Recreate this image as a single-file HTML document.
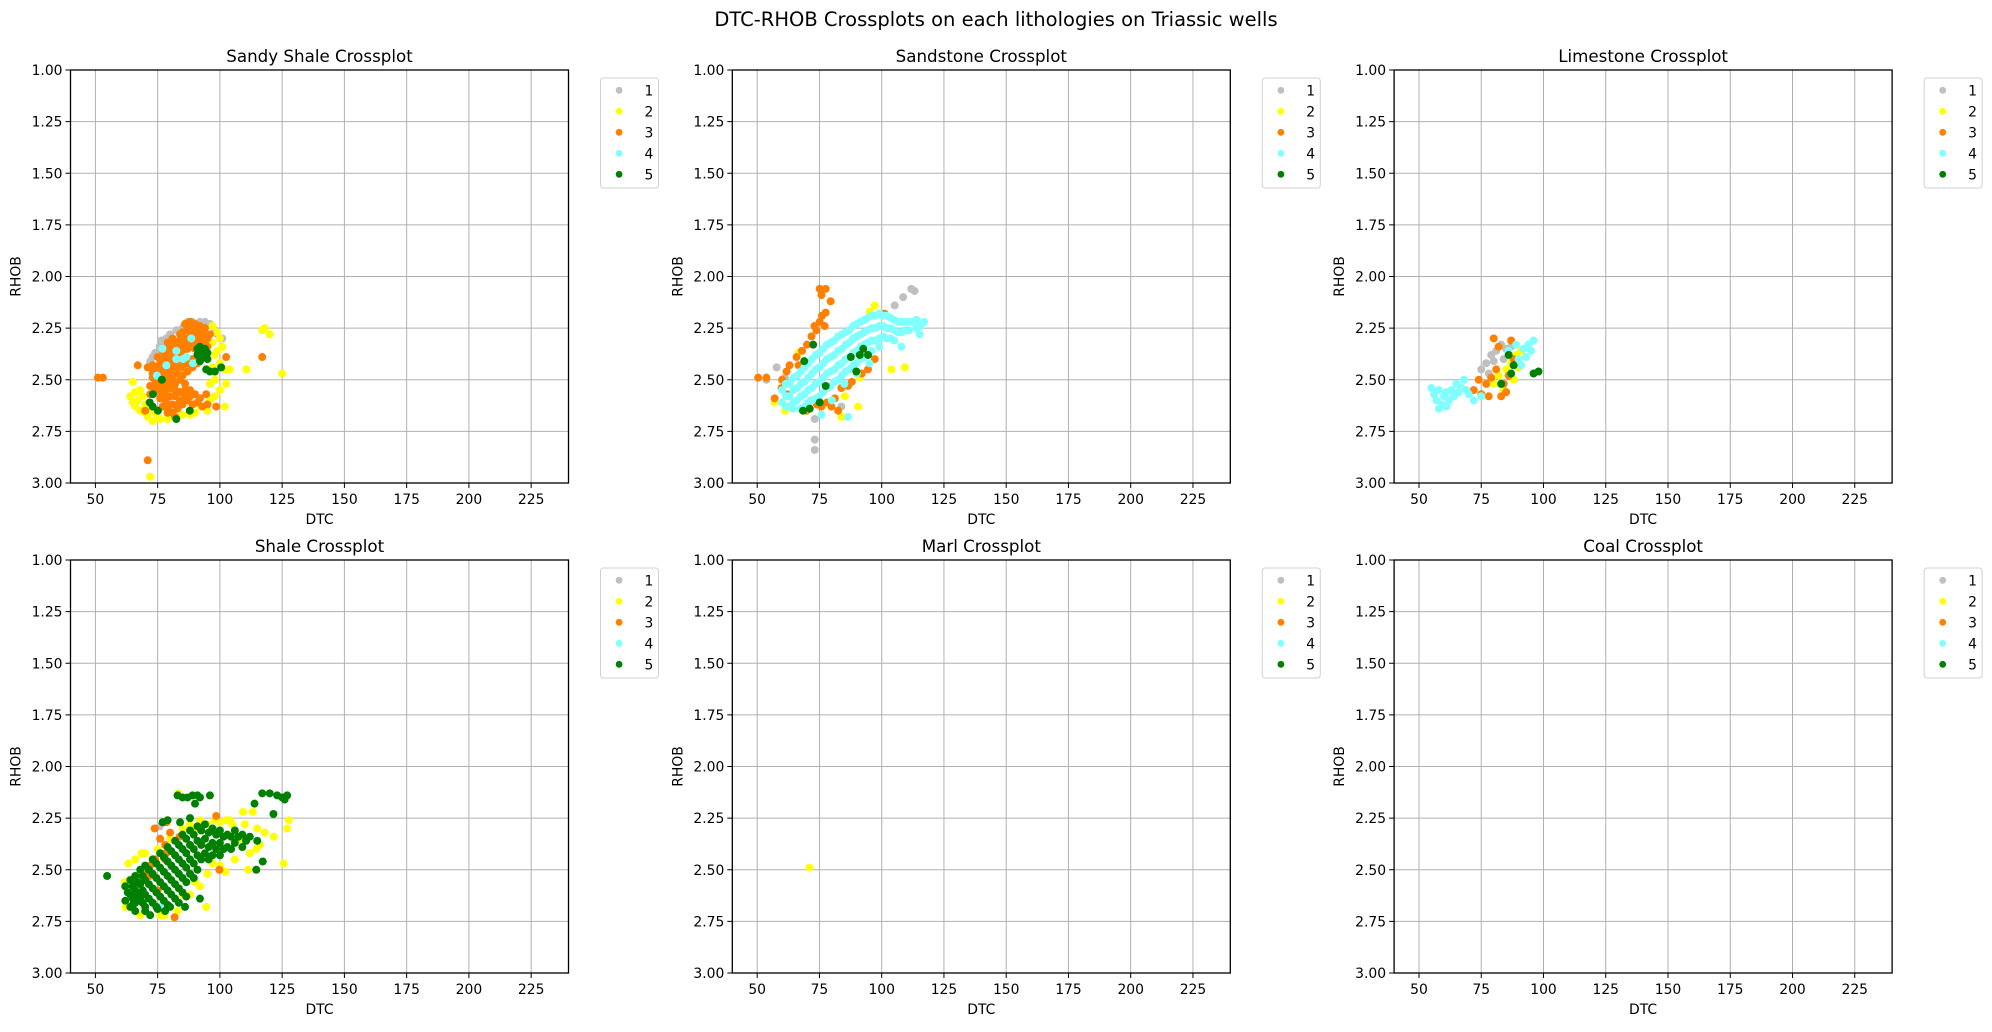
<!DOCTYPE html>
<html><head><meta charset="utf-8"><style>
html,body{margin:0;padding:0;background:#fff;}
svg text{font-family:"DejaVu Sans","Liberation Sans",sans-serif;fill:#000;}
</style></head><body>
<svg id="fig" width="1992" height="1027" viewBox="0 0 1992 1027" xmlns="http://www.w3.org/2000/svg">
<text x="996" y="26" font-size="19.5" text-anchor="middle">DTC-RHOB Crossplots on each lithologies on Triassic wells</text>
</svg>
<script>
const xTicks = [50,75,100,125,150,175,200,225];
const yTicks = [1.00,1.25,1.50,1.75,2.00,2.25,2.50,2.75,3.00];
const classLabels = ["1","2","3","4","5"];
const classColors = ["#bfbfbf","#ffff00","#ff8000","#80ffff","#008000"];
const panelTitles = ["Sandy Shale Crossplot","Sandstone Crossplot","Limestone Crossplot","Shale Crossplot","Marl Crossplot","Coal Crossplot"];

const sandyShale1 = [[89,2.22],[92,2.22],[96,2.23],[101,2.30],[78.5,2.30],[82.5,2.26],[85,2.25],[71.8,2.43],[75.8,2.34],[76.5,2.31],[80,2.28],[98,2.26],[73,2.39],[87,2.22],[94,2.22],[99,2.28],[77,2.33],[74,2.37],[72,2.41]];
const sandyShale2 = [[64,2.58],[66,2.56],[68,2.55],[65,2.61],[67,2.60],[69,2.58],[70,2.62],[72,2.64],[74,2.66],[68,2.65],[71,2.68],[73,2.70],[76,2.69],[79,2.69],[85,2.67],[88,2.67],[92,2.63],[95,2.65],[97,2.24],[99,2.27],[100,2.30],[101,2.34],[98,2.38],[100,2.42],[102,2.45],[104,2.45],[98,2.50],[100,2.55],[102,2.63],[117,2.26],[118,2.25],[120,2.28],[110.6,2.45],[125,2.47],[72,2.97],[65,2.51],[102.5,2.52],[96,2.60],[66,2.63],[70,2.66],[75,2.68],[82,2.68],[90,2.66],[97,2.32],[99,2.36],[97,2.44],[96,2.52],[98,2.58]];
const sandyShale3 = [[86,2.23],[88,2.22],[90,2.23],[92,2.24],[94,2.25],[87,2.26],[89,2.27],[91,2.28],[93,2.29],[95,2.30],[84,2.28],[86,2.30],[88,2.31],[90,2.32],[83,2.32],[85,2.34],[87,2.35],[80,2.34],[82,2.36],[84,2.38],[78,2.38],[80,2.40],[82,2.42],[76,2.42],[78,2.44],[80,2.46],[74,2.45],[76,2.47],[78,2.49],[73,2.49],[75,2.51],[77,2.53],[72,2.53],[74,2.55],[79,2.52],[81,2.50],[83,2.47],[85,2.44],[87,2.42],[89,2.40],[91,2.38],[93,2.36],[94,2.33],[96,2.28],[82,2.55],[80,2.58],[78,2.60],[81,2.62],[83,2.64],[79,2.66],[82,2.68],[84,2.60],[86,2.58],[88,2.55],[90,2.57],[92,2.59],[89,2.62],[93,2.63],[95,2.62],[72,2.57],[71,2.44],[84,2.50],[86,2.52],[76,2.56],[77,2.63],[51,2.49],[53,2.49],[67,2.43],[117,2.39],[71,2.89],[102.5,2.39],[94.5,2.57],[98.5,2.63],[70,2.65]];
const sandyShale3b = [[87,2.24],[89,2.25],[91,2.26],[93,2.27],[85,2.27],[88,2.29],[90,2.30],[92,2.31],[94,2.32],[84,2.31],[86,2.33],[88,2.34],[90,2.35],[81,2.33],[83,2.35],[85,2.37],[79,2.36],[81,2.38],[83,2.40],[85,2.41],[77,2.40],[79,2.42],[81,2.44],[83,2.44],[75,2.44],[77,2.46],[79,2.48],[81,2.48],[73,2.47],[75,2.49],[77,2.51],[79,2.50],[74,2.52],[76,2.54],[78,2.55],[80,2.54],[80,2.62],[79,2.64],[81,2.66],[83,2.62],[85,2.62],[87,2.60],[91,2.61],[76,2.59],[78,2.57],[82,2.58],[84,2.56],[86,2.55],[88,2.58],[82,2.52],[85,2.48],[87,2.46],[89,2.44],[91,2.42],[92,2.39],[94,2.37],[95,2.34],[73,2.43],[75,2.39],[77,2.36],[79,2.32],[81,2.30]];
const sandyShale4 = [[88.5,2.30],[82.5,2.36],[86.5,2.39],[78.5,2.43],[74.7,2.48],[76.9,2.35],[85.2,2.40],[89.2,2.42],[82.5,2.40]];
const sandyShale5 = [[91,2.35],[92,2.34],[93,2.36],[94,2.35],[95,2.37],[91,2.38],[93,2.39],[95,2.40],[92,2.41],[94.5,2.45],[96,2.46],[98,2.46],[100.5,2.44],[76.7,2.50],[73.1,2.57],[71.8,2.61],[73,2.63],[75.1,2.65],[82.5,2.69],[87.9,2.65]];

const sandstone1 = [[111.9,2.06],[113.2,2.07],[108.6,2.10],[105.2,2.14],[57.8,2.44],[61.1,2.49],[53.7,2.50],[73.1,2.69],[73.1,2.79],[73.1,2.84],[83.8,2.63]];
const sandstone2 = [[97.2,2.14],[95.2,2.17],[103.9,2.45],[109.3,2.44],[90.5,2.63],[85.2,2.58],[57,2.61],[61.1,2.65],[83.8,2.68],[91.2,2.49],[66.6,2.37]];
const sandstone3 = [[75.1,2.06],[77.5,2.06],[79.5,2.12],[75.8,2.09],[77.5,2.175],[75.1,2.22],[71.8,2.29],[65.8,2.39],[61.8,2.46],[50.4,2.49],[53.7,2.49],[57,2.59],[59.8,2.54],[71.8,2.60],[75.8,2.63],[79.8,2.63],[82.5,2.65],[81.2,2.59],[83.8,2.54],[86.5,2.53],[94.5,2.45],[97.2,2.40],[101.2,2.18],[77.1,2.24],[73.8,2.26],[66.6,2.43],[69.8,2.65],[76,2.19],[73,2.24],[70,2.33],[68,2.36],[63,2.43],[60,2.50],[62,2.57],[74,2.62],[78,2.61],[88,2.51],[92,2.47]];
const sandstone4 = [[60,2.55],[60,2.61],[63,2.52],[63,2.58],[63,2.63],[66,2.48],[66,2.54],[66,2.60],[69,2.44],[69,2.51],[69,2.57],[69,2.63],[72,2.40],[72,2.47],[72,2.54],[72,2.60],[75,2.37],[75,2.44],[75,2.51],[75,2.58],[78,2.33],[78,2.40],[78,2.47],[78,2.54],[81,2.31],[81,2.38],[81,2.45],[81,2.51],[84,2.28],[84,2.35],[84,2.42],[84,2.48],[87,2.26],[87,2.32],[87,2.39],[87,2.45],[90,2.23],[90,2.29],[90,2.36],[90,2.42],[93,2.21],[93,2.27],[93,2.33],[93,2.39],[96,2.19],[96,2.25],[96,2.31],[96,2.36],[99,2.18],[99,2.24],[99,2.30],[99,2.34],[102,2.19],[102,2.25],[102,2.30],[105,2.21],[105,2.26],[105,2.31],[108,2.22],[108,2.27],[111,2.22],[111,2.26],[114,2.21],[114,2.25],[117,2.22],[113.9,2.21],[115.2,2.28],[107.9,2.34],[86.5,2.68],[75.8,2.67],[64.4,2.64],[80,2.60],[70,2.64],[85,2.52],[90,2.47],[95,2.42]];
const sandstone4b = [[61.5,2.52],[61.5,2.58],[61.5,2.63],[64.5,2.49],[64.5,2.55],[64.5,2.61],[67.5,2.46],[67.5,2.52],[67.5,2.58],[67.5,2.64],[70.5,2.42],[70.5,2.49],[70.5,2.55],[70.5,2.61],[73.5,2.38],[73.5,2.45],[73.5,2.52],[73.5,2.59],[76.5,2.35],[76.5,2.42],[76.5,2.49],[76.5,2.56],[79.5,2.32],[79.5,2.39],[79.5,2.46],[79.5,2.53],[82.5,2.29],[82.5,2.36],[82.5,2.43],[82.5,2.50],[85.5,2.27],[85.5,2.33],[85.5,2.40],[85.5,2.46],[88.5,2.24],[88.5,2.30],[88.5,2.37],[88.5,2.43],[91.5,2.22],[91.5,2.28],[91.5,2.34],[91.5,2.40],[94.5,2.20],[94.5,2.26],[94.5,2.32],[94.5,2.38],[97.5,2.19],[97.5,2.25],[97.5,2.31],[100.5,2.19],[100.5,2.24],[100.5,2.29],[103.5,2.20],[103.5,2.25],[103.5,2.30],[106.5,2.22],[106.5,2.27],[109.5,2.22],[109.5,2.26],[112.5,2.22],[115.5,2.24]];
const sandstone5 = [[72.5,2.33],[68.9,2.41],[87.6,2.39],[92.6,2.35],[91.2,2.38],[94.5,2.38],[89.8,2.46],[77.5,2.53],[75.1,2.61],[68.4,2.65],[71.1,2.64]];

const limestone1 = [[75,2.45],[77,2.42],[79,2.38],[81,2.36],[83,2.33],[85,2.35],[87,2.34],[80,2.41],[78,2.47],[84,2.40]];
const limestone2 = [[80,2.52],[82,2.48],[85,2.45],[87,2.42],[89,2.38],[88,2.50],[84,2.55],[90,2.44],[91,2.36]];
const limestone3 = [[72,2.55],[74,2.50],[75,2.57],[77,2.52],[79,2.49],[81,2.45],[82,2.34],[80,2.30],[84,2.52],[85,2.56],[83,2.58],[87,2.31],[86,2.48],[78,2.58],[88,2.40]];
const limestone4 = [[55,2.54],[56,2.57],[57,2.60],[58,2.55],[59,2.62],[60,2.58],[61,2.56],[62,2.60],[63,2.55],[64,2.58],[65,2.52],[66,2.56],[67,2.54],[68,2.50],[69,2.55],[70,2.57],[58,2.64],[61,2.63],[72,2.60],[75,2.58],[90,2.40],[92,2.35],[95,2.36],[96,2.31],[94,2.33],[91,2.43],[86,2.36],[89,2.33],[93,2.39]];
const limestone5 = [[83,2.52],[87,2.47],[88,2.43],[96,2.47],[98,2.46],[86,2.38]];

const shale1 = [[75.8,2.29]];
const shale2 = [[113.2,2.22],[109.3,2.22],[102.5,2.26],[127.7,2.26],[127,2.30],[121.6,2.34],[125.6,2.47],[111.3,2.50],[102.2,2.51],[68.5,2.42],[63.2,2.47],[61.8,2.56],[77.8,2.72],[94.5,2.68],[90.5,2.30],[83.3,2.13],[114.6,2.40],[90,2.30],[95,2.28],[100,2.27],[105,2.28],[108,2.35],[97,2.47],[85,2.62],[92,2.58]];
const shale2b = [[66,2.45],[70,2.42],[75,2.40],[80,2.35],[85,2.30],[88,2.28],[92,2.26],[98,2.26],[104,2.26],[110,2.28],[115,2.30],[118,2.32],[116,2.38],[112,2.42],[106,2.45],[100,2.48],[95,2.52],[90,2.56],[88,2.62],[83,2.70],[76,2.72],[68,2.72],[62,2.68]];
const shale3 = [[98.5,2.24],[73.8,2.30],[78.5,2.27],[78.5,2.42],[83.8,2.34],[81.8,2.73],[99.8,2.50],[71.8,2.53],[76,2.35],[78,2.38],[80,2.32],[74,2.45],[72,2.48],[78,2.45],[70,2.52],[75,2.60]];
const shale4 = [[75.8,2.68]];
const shale5 = [[62,2.58],[62,2.65],[64,2.55],[64,2.62],[64,2.68],[66,2.53],[66,2.60],[66,2.66],[68,2.50],[68,2.57],[68,2.64],[70,2.48],[70,2.55],[70,2.62],[70,2.68],[73,2.45],[73,2.52],[73,2.59],[73,2.66],[76,2.42],[76,2.49],[76,2.56],[76,2.63],[79,2.39],[79,2.46],[79,2.53],[79,2.60],[79,2.67],[82,2.36],[82,2.43],[82,2.50],[82,2.57],[82,2.64],[85,2.33],[85,2.40],[85,2.47],[85,2.54],[85,2.61],[88,2.31],[88,2.38],[88,2.45],[88,2.52],[91,2.29],[91,2.36],[91,2.43],[91,2.50],[94,2.28],[94,2.35],[94,2.42],[97,2.30],[97,2.37],[97,2.43],[100,2.31],[100,2.37],[100,2.43],[103,2.33],[103,2.39],[106,2.31],[106,2.37],[109,2.33],[109,2.39],[112,2.34],[115,2.36],[77,2.27],[79,2.26],[84,2.27],[88,2.25],[65,2.67],[70,2.70],[75,2.69],[80,2.68],[83,2.14],[85,2.15],[87,2.15],[89,2.14],[91,2.14],[92,2.15],[96,2.14],[90,2.18],[117,2.13],[120,2.13],[123,2.14],[125,2.15],[127,2.14],[126,2.16],[121.5,2.23],[113.9,2.18],[54.7,2.53],[117.2,2.46],[114.6,2.50]];
const shale5b = [[63,2.61],[65,2.58],[65,2.64],[67,2.56],[67,2.62],[69,2.53],[69,2.60],[69,2.66],[71.5,2.50],[71.5,2.57],[71.5,2.64],[74.5,2.47],[74.5,2.54],[74.5,2.61],[74.5,2.68],[77.5,2.44],[77.5,2.51],[77.5,2.58],[77.5,2.65],[80.5,2.41],[80.5,2.48],[80.5,2.55],[80.5,2.62],[83.5,2.38],[83.5,2.45],[83.5,2.52],[83.5,2.59],[83.5,2.66],[86.5,2.35],[86.5,2.42],[86.5,2.49],[86.5,2.56],[86.5,2.63],[89.5,2.33],[89.5,2.40],[89.5,2.47],[89.5,2.54],[92.5,2.31],[92.5,2.38],[92.5,2.45],[95.5,2.32],[95.5,2.39],[95.5,2.45],[98.5,2.33],[98.5,2.40],[101.5,2.34],[101.5,2.40],[104.5,2.34],[104.5,2.40],[107.5,2.34],[110.5,2.36],[66,2.70],[72,2.72],[78,2.70],[86,2.68],[92,2.64]];

const marl1 = [];
const marl2 = [[71,2.49]];
const marl3 = [];
const marl4 = [];
const marl5 = [];

const coal1 = [];
const coal2 = [];
const coal3 = [];
const coal4 = [];
const coal5 = [];

const panelSeries = [
  [sandyShale1,sandyShale2,sandyShale3.concat(sandyShale3b),sandyShale4,sandyShale5],
  [sandstone1,sandstone2,sandstone3,sandstone4.concat(sandstone4b),sandstone5],
  [limestone1,limestone2,limestone3,limestone4,limestone5],
  [shale1,shale2.concat(shale2b),shale3,shale4,shale5.concat(shale5b)],
  [marl1,marl2,marl3,marl4,marl5],
  [coal1,coal2,coal3,coal4,coal5]
];
const panelNames = ["sandy-shale","sandstone","limestone","shale","marl","coal"];

const NS = "http://www.w3.org/2000/svg";
const fig = document.getElementById("fig");
const X0 = 40, X1 = 240, Y0 = 1.0, Y1 = 3.0;
const W = 498, H = 413;

function mk(tag, attrs, parent){
  const e = document.createElementNS(NS, tag);
  for (const k in attrs) e.setAttribute(k, attrs[k]);
  parent.appendChild(e);
  return e;
}

panelSeries.forEach((series, p) => {
  const col = p % 3, row = Math.floor(p / 3);
  const left = 70.5 + col * 661.8;
  const top = 70 + row * 490;
  const sx = v => left + (v - X0) / (X1 - X0) * W;
  const sy = v => top + (v - Y0) / (Y1 - Y0) * H;

  const g = mk("g", {}, fig);
  
  

  const clip = mk("clipPath", {id: "clip" + p}, g);
  mk("rect", {x: left, y: top, width: W, height: H}, clip);

  xTicks.forEach(t => {
    const l = mk("line", {x1: sx(t), x2: sx(t), y1: top, y2: top + H, stroke: "#b0b0b0", "stroke-width": 1}, g);
    
    
  });
  yTicks.forEach(t => {
    const l = mk("line", {x1: left, x2: left + W, y1: sy(t), y2: sy(t), stroke: "#b0b0b0", "stroke-width": 1}, g);
    
    
  });

  const pg = mk("g", {"clip-path": "url(#clip" + p + ")"}, g);
  series.forEach((pts, c) => {
    pts.forEach(pt => {
      const d = mk("circle", {cx: sx(pt[0]), cy: sy(pt[1]), r: 4, fill: classColors[c]}, pg);
      
      
    });
  });

  const fr = mk("rect", {x: left, y: top, width: W, height: H, fill: "none", stroke: "#000", "stroke-width": 1.3}, g);
  
  

  xTicks.forEach(t => {
    mk("line", {x1: sx(t), x2: sx(t), y1: top + H, y2: top + H + 5, stroke: "#000", "stroke-width": 1}, g);
    const tx = mk("text", {x: sx(t), y: top + H + 21, "font-size": 13.9, "text-anchor": "middle"}, g);
    tx.textContent = String(t);
    
    
  });
  yTicks.forEach(t => {
    mk("line", {x1: left - 5, x2: left, y1: sy(t), y2: sy(t), stroke: "#000", "stroke-width": 1}, g);
    const tx = mk("text", {x: left - 8, y: sy(t) + 5, "font-size": 13.9, "text-anchor": "end"}, g);
    tx.textContent = t.toFixed(2);
    
    
  });

  const xl = mk("text", {x: left + W / 2, y: top + H + 41, "font-size": 13.9, "text-anchor": "middle"}, g);
  xl.textContent = "DTC";
  
  

  const yl = mk("text", {x: 0, y: 0, "font-size": 13.9, "text-anchor": "middle", transform: "translate(" + (left - 50) + "," + (top + H / 2) + ") rotate(-90)"}, g);
  yl.textContent = "RHOB";
  
  

  const tt = mk("text", {x: left + W / 2, y: top - 8, "font-size": 16.7, "text-anchor": "middle"}, g);
  tt.textContent = panelTitles[p];
  
  

  const lx = left + W + 32, ly = top + 8;
  const lg = mk("g", {}, g);
  
  
  mk("rect", {x: lx, y: ly, width: 58, height: 110, rx: 3, fill: "#fff", stroke: "#d0d0d0", "stroke-width": 1}, lg);
  classLabels.forEach((lab, c) => {
    const cy = ly + 12.3 + c * 21;
    const ent = mk("g", {}, lg);
    
    
    mk("circle", {cx: lx + 18.6, cy: cy, r: 3.4, fill: classColors[c]}, ent);
    const t = mk("text", {x: lx + 44, y: cy + 5, "font-size": 13.9}, ent);
    t.textContent = lab;
  });
});
</script>
</body></html>
